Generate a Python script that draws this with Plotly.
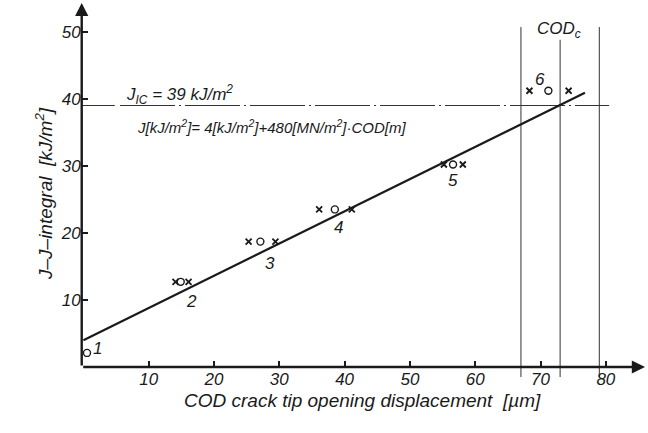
import plotly.graph_objects as go

# ---- data ----
group_labels = ["1", "2", "3", "4", "5", "6"]
j_values = [2.1, 12.7, 18.7, 23.5, 30.2, 41.2]
cod_circle = [0.55, 14.9, 27.1, 38.5, 56.6, 71.2]
cod_cross_left = [None, 14.1, 25.3, 36.1, 55.2, 68.3]
cod_cross_right = [None, 16.1, 29.4, 41.1, 58.1, 74.3]

fit_cod = [0.0, 76.8]
fit_j = [4.0, 40.9]

j_ic = 39.0
cod_c = 73.0
cod_band = [67.0, 79.0]

x_ticks = [10, 20, 30, 40, 50, 60, 70, 80]
y_ticks = [10, 20, 30, 40, 50]

# label anchor positions (COD, J)
label_cod = [2.1, 16.5, 28.6, 39.1, 56.6, 69.9]
label_j = [2.8, 9.7, 15.5, 20.8, 27.8, 42.9]

FONT = "Liberation Sans Narrow, Liberation Sans, Arial, sans-serif"
INK = "#1a1a1a"

fig = go.Figure()

# vertical COD lines
for c in cod_band:
    fig.add_trace(go.Scatter(x=[c, c], y=[-1.5, 50.7], mode="lines",
                             line=dict(color="#333", width=1), hoverinfo="skip"))
fig.add_trace(go.Scatter(x=[cod_c, cod_c], y=[-1.5, 48.8], mode="lines",
                         line=dict(color="#333", width=1), hoverinfo="skip"))

# J_IC horizontal line: solid start then dash-dot
fig.add_trace(go.Scatter(x=[-0.26, 4.8], y=[j_ic, j_ic], mode="lines",
                         line=dict(color="#333", width=1.2), hoverinfo="skip"))
fig.add_trace(go.Scatter(x=[5.6, 80.5], y=[j_ic, j_ic], mode="lines",
                         line=dict(color="#333", width=1.2, dash="55px,4px,2px,4px"),
                         hoverinfo="skip"))

# fitted line
fig.add_trace(go.Scatter(x=fit_cod, y=fit_j, mode="lines",
                         line=dict(color=INK, width=2.2), hoverinfo="skip"))

# data markers
fig.add_trace(go.Scatter(x=cod_circle, y=j_values, mode="markers",
                         marker=dict(symbol="circle-open", size=7, color=INK,
                                     line=dict(width=1.4, color=INK))))
fig.add_trace(go.Scatter(x=cod_cross_left + cod_cross_right, y=j_values + j_values,
                         mode="markers",
                         marker=dict(symbol="x-thin", size=6, color=INK,
                                     line=dict(width=1.8, color=INK))))

annotations = []
for lab, lx, ly in zip(group_labels, label_cod, label_j):
    annotations.append(dict(x=lx, y=ly, xref="x", yref="y", text=lab, showarrow=False,
                            font=dict(family=FONT, size=17, color=INK, style="italic")))

# axes arrows
annotations.append(dict(x=86.0, y=0, ax=-0.26, ay=0, xref="x", yref="y", axref="x", ayref="y",
                        showarrow=True, arrowhead=2, arrowsize=1.1, arrowwidth=2.4,
                        arrowcolor=INK, text=""))
annotations.append(dict(x=-0.26, y=54.3, ax=-0.26, ay=0, xref="x", yref="y", axref="x", ayref="y",
                        showarrow=True, arrowhead=2, arrowsize=1.1, arrowwidth=2.4,
                        arrowcolor=INK, text=""))

annotations.append(dict(x=72.8, y=50.3, xref="x", yref="y", text="COD<sub>c</sub>", showarrow=False,
                        font=dict(family=FONT, size=17, color=INK, style="italic")))
annotations.append(dict(x=6.2, y=40.7, xref="x", yref="y", xanchor="left",
                        text="J<sub>IC</sub> = 39 kJ/m<sup>2</sup>", showarrow=False,
                        font=dict(family=FONT, size=17, color=INK, style="italic")))
annotations.append(dict(x=7.9, y=35.8, xref="x", yref="y", xanchor="left",
                        text="J[kJ/m<sup>2</sup>]= 4[kJ/m<sup>2</sup>]+480[MN/m<sup>2</sup>]·COD[m]",
                        showarrow=False,
                        font=dict(family=FONT, size=15, color=INK, style="italic")))

# axis titles
annotations.append(dict(x=30 / 648, y=1 - 194 / 433, xref="paper", yref="paper",
                        text="J–J–integral  [kJ/m<sup>2</sup>]", textangle=-90, showarrow=False,
                        font=dict(family=FONT, size=19, color=INK, style="italic")))
annotations.append(dict(x=362 / 648, y=1 - 413 / 433, xref="paper", yref="paper",
                        text="COD crack tip opening displacement  [µm]", showarrow=False,
                        font=dict(family=FONT, size=19, color=INK, style="italic")))

fig.update_layout(
    width=648, height=433, margin=dict(l=0, r=0, t=0, b=0),
    paper_bgcolor="white", plot_bgcolor="white", showlegend=False,
    annotations=annotations,
    xaxis=dict(range=[-0.26, 86], domain=[0.1261, 0.9954], anchor="free", position=0.1524,
               showgrid=False, zeroline=False, showline=False,
               tickmode="array", tickvals=x_ticks, ticktext=[str(v) for v in x_ticks],
               ticks="inside", ticklen=6, tickwidth=1.5, tickcolor=INK,
               tickfont=dict(family=FONT, size=17, color=INK, style="italic")),
    yaxis=dict(range=[-3, 54.5], domain=[0.1060, 0.9964],
               showgrid=False, zeroline=False, showline=False,
               tickmode="array", tickvals=y_ticks, ticktext=[str(v) for v in y_ticks],
               ticks="inside", ticklen=6, tickwidth=1.5, tickcolor=INK,
               tickfont=dict(family=FONT, size=17, color=INK, style="italic")),
)

fig.write_html("out.html")
